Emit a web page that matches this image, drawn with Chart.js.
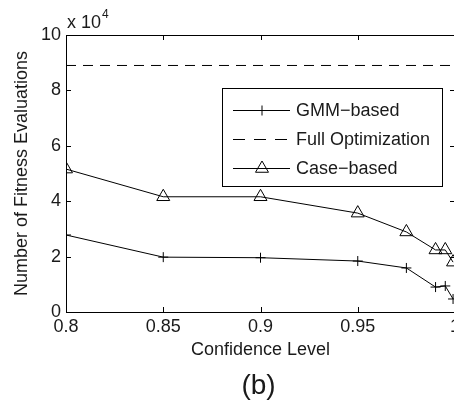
<!DOCTYPE html>
<html>
<head>
<meta charset="utf-8">
<script src="https://cdn.jsdelivr.net/npm/chart.js@4"></script>
<style>
  html, body { margin: 0; padding: 0; overflow: hidden; background: #fff; }
  canvas { display: block; }
</style>
</head>
<body>
<canvas id="evals-graph" width="480" height="401" style="width:480px;height:401px"></canvas>
<script>
// confidence levels on x, evaluations in units of 10^4
const confidence = [0.8, 0.85, 0.9, 0.95, 0.975, 0.99, 0.995, 0.999];
const gmmBased = [2.78, 1.98, 1.96, 1.84, 1.59, 0.9, 0.94, 0.47];
const caseBased = [5.16, 4.16, 4.16, 3.57, 2.89, 2.24, 2.24, 1.8];
const fullOptX = [0.8, 1.0];
const fullOpt = [8.9, 8.9];
const xTicks = [0.8, 0.85, 0.9, 0.95, 1];
const yTicks = [0, 2, 4, 6, 8, 10];

const FONT = '"Liberation Sans", Arial, Helvetica, sans-serif';
const INK = "#1a1a1a";

const toPoints = (xs, ys) => xs.map((x, i) => ({ x: x, y: ys[i] }));

// MATLAB style frame: box, inward ticks, exponent label, legend, panel tag
const matlabFrame = {
  id: "matlabFrame",
  afterDatasetsDraw(chart) {
    const ctx = chart.ctx;
    const a = chart.chartArea;
    const xs = chart.scales.x;
    const ys = chart.scales.y;
    ctx.save();
    ctx.strokeStyle = "#000";
    ctx.lineWidth = 1;
    ctx.strokeRect(Math.round(a.left) + 0.5, Math.round(a.top) + 0.5, Math.round(a.right - a.left), Math.round(a.bottom - a.top));
    ctx.beginPath();
    xTicks.forEach((v) => {
      const px = Math.round(xs.getPixelForValue(v)) + 0.5;
      ctx.moveTo(px, a.bottom);
      ctx.lineTo(px, a.bottom - 5);
      ctx.moveTo(px, a.top);
      ctx.lineTo(px, a.top + 5);
    });
    yTicks.forEach((v) => {
      const py = Math.round(ys.getPixelForValue(v)) + 0.5;
      ctx.moveTo(a.left, py);
      ctx.lineTo(a.left + 5, py);
      ctx.moveTo(a.right, py);
      ctx.lineTo(a.right - 5, py);
    });
    ctx.stroke();

    // exponent
    ctx.fillStyle = INK;
    ctx.textBaseline = "alphabetic";
    ctx.textAlign = "left";
    ctx.font = "18px " + FONT;
    ctx.fillText("x 10", a.left + 1, 28);
    const w = ctx.measureText("x 10").width;
    ctx.font = "12px " + FONT;
    ctx.fillText("4", a.left + 2 + w, 18);

    // panel tag under the axis title
    ctx.font = "28px " + FONT;
    ctx.textAlign = "center";
    ctx.textBaseline = "middle";
    ctx.fillText("(b)", (a.left + a.right) / 2 - 2, 386);
    ctx.textAlign = "left";

    // legend box
    const bx = 222, by = 88, bw = 220, bh = 98;
    ctx.fillStyle = "#fff";
    ctx.fillRect(bx, by, bw, bh);
    ctx.strokeStyle = "#000";
    ctx.strokeRect(bx + 0.5, by + 0.5, bw, bh);
    const rows = [110, 139, 168];
    chart.data.datasets.forEach((ds, i) => {
      const y = rows[i] + 0.5;
      ctx.strokeStyle = "#000";
      ctx.lineWidth = 1;
      ctx.setLineDash(ds.borderDash ? [12, 9] : []);
      ctx.beginPath();
      ctx.moveTo(233, y);
      ctx.lineTo(290, y);
      ctx.stroke();
      ctx.setLineDash([]);
      if (ds.pointRadius > 0) {
        ctx.fillStyle = "rgba(0,0,0,0)";
        Chart.helpers.drawPoint(ctx, {
          pointStyle: ds.pointStyle,
          radius: ds.pointRadius,
          borderWidth: 1,
        }, 262, y);
      }
      ctx.fillStyle = INK;
      ctx.font = "18px " + FONT;
      ctx.textBaseline = "middle";
      ctx.fillText(ds.label, 296, rows[i] + 1);
    });
    ctx.restore();
  },
};

new Chart(document.getElementById("evals-graph").getContext("2d"), {
  type: "line",
  data: {
    datasets: [
      {
        label: "GMM\u2212based",
        data: toPoints(confidence, gmmBased),
        borderColor: "#000",
        backgroundColor: "#000",
        borderWidth: 1,
        pointStyle: "cross",
        pointRadius: 5,
        pointBorderWidth: 1,
      },
      {
        label: "Full Optimization",
        data: toPoints(fullOptX, fullOpt),
        borderColor: "#000",
        borderWidth: 1,
        borderDash: [10, 7],
        pointRadius: 0,
      },
      {
        label: "Case\u2212based",
        data: toPoints(confidence, caseBased),
        borderColor: "#000",
        backgroundColor: "rgba(0,0,0,0)",
        borderWidth: 1,
        pointStyle: "triangle",
        pointRadius: 7.5,
        pointBorderWidth: 1,
      },
    ],
  },
  options: {
    responsive: false,
    animation: false,
    layout: { padding: { top: 35, right: 25, left: 0, bottom: 0 } },
    plugins: {
      legend: { display: false },
      tooltip: { enabled: false },
    },
    scales: {
      x: {
        type: "linear",
        min: 0.8,
        max: 1,
        afterBuildTicks: (s) => { s.ticks = xTicks.map((v) => ({ value: v })); },
        afterFit: (s) => { s.height = 89; },
        ticks: {
          color: INK,
          padding: 4,
          maxRotation: 0,
          font: { family: FONT, size: 18 },
          callback: (v) => String(v),
        },
        grid: { display: false, drawTicks: false },
        border: { display: false },
        title: {
          display: true,
          text: "Confidence Level",
          color: INK,
          font: { family: FONT, size: 18 },
          padding: { top: 0, bottom: 40 },
        },
      },
      y: {
        min: 0,
        max: 10,
        afterBuildTicks: (s) => { s.ticks = yTicks.map((v) => ({ value: v })); },
        afterFit: (s) => { s.width = 66; },
        ticks: {
          color: INK,
          padding: 5,
          font: { family: FONT, size: 18 },
        },
        grid: { display: false, drawTicks: false },
        border: { display: false },
        title: {
          display: true,
          text: "Number of Fitness Evaluations",
          color: INK,
          font: { family: FONT, size: 18 },
          padding: { top: 11, bottom: 0 },
        },
      },
    },
  },
  plugins: [matlabFrame],
});
</script>
</body>
</html>
